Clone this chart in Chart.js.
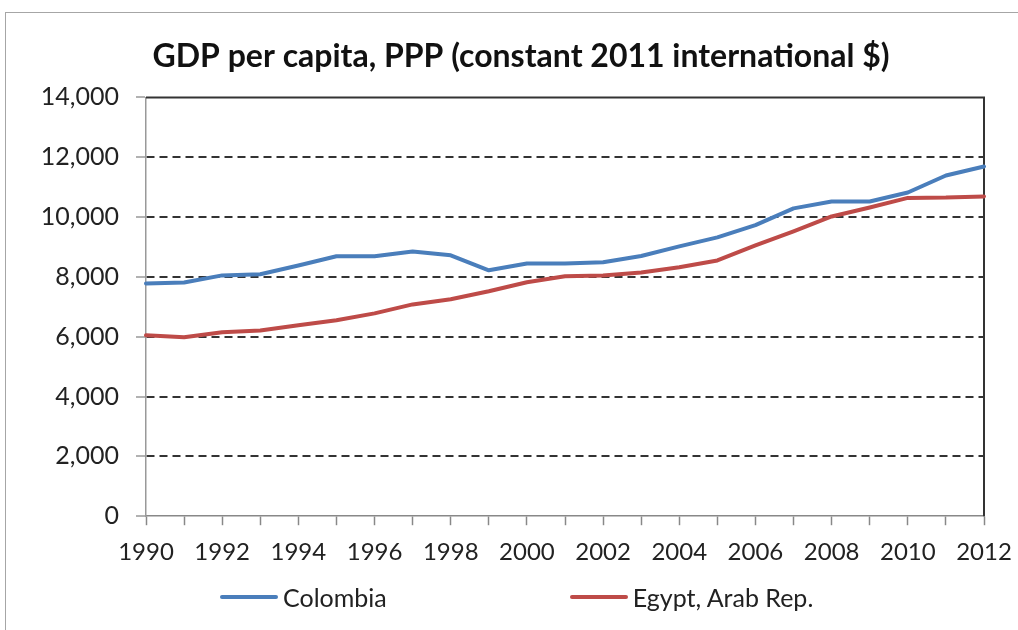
<!DOCTYPE html>
<html>
<head>
<meta charset="utf-8">
<title>GDP per capita, PPP</title>
<script src="https://cdn.jsdelivr.net/npm/chart.js@4/dist/chart.umd.min.js"></script>
<style>
  html, body { margin: 0; padding: 0; background: #fff; overflow: hidden; }
  #wrap { position: relative; width: 1018px; height: 630px; }
  #frame {
    position: absolute; left: 5px; top: 12px; width: 1100px; height: 700px;
    border: 1.5px solid #a6a6a6; box-sizing: border-box;
  }
  #chart { position: absolute; left: 0; top: 0; }
  #legend {
    position: absolute; left: 220px; top: 580px; height: 34px;
    display: flex; align-items: center; column-gap: 183px;
    font-family: Lato, "Open Sans", sans-serif; font-size: 25px; color: #222;
  }
  .lg-item { display: flex; align-items: center; }
  .lg-swatch { width: 58px; height: 4px; border-radius: 2px; margin-right: 5px; }
</style>
</head>
<body>
<div id="wrap">
  <div id="frame"></div>
  <canvas id="chart" width="1018" height="630"></canvas>
  <div id="legend"></div>
</div>
<script>
// GDP per capita, PPP (constant 2011 international $)
const years = ['1990', '1991', '1992', '1993', '1994', '1995', '1996', '1997', '1998', '1999',
               '2000', '2001', '2002', '2003', '2004', '2005', '2006', '2007', '2008', '2009',
               '2010', '2011', '2012'];

const colombia = [7780, 7810, 8050, 8090, 8380, 8690, 8690, 8850, 8720, 8220,
                  8450, 8450, 8490, 8700, 9020, 9320, 9730, 10290, 10520, 10520,
                  10820, 11390, 11690];

const egypt = [6050, 5980, 6150, 6210, 6380, 6550, 6780, 7080, 7250, 7520,
               7820, 8020, 8050, 8150, 8320, 8550, 9050, 9520, 10020, 10320,
               10640, 10650, 10690];

const seriesNames  = ['Colombia', 'Egypt, Arab Rep.'];
const seriesColors = ['#4a7ebb', '#be4b48'];
const yTicks = [0, 2000, 4000, 6000, 8000, 10000, 12000, 14000];

const FONT = 'Lato, "Open Sans", sans-serif';

// ── Plot frame (top and right edges of the plot area) ──
const plotFrame = {
  id: 'plotFrame',
  beforeDatasetsDraw(chart) {
    const { ctx, chartArea: a } = chart;
    ctx.save();
    ctx.strokeStyle = '#333';
    ctx.lineWidth = 2;
    ctx.beginPath();
    ctx.moveTo(a.left, a.top);
    ctx.lineTo(a.right, a.top);
    ctx.lineTo(a.right, a.bottom);
    ctx.stroke();
    ctx.restore();
  }
};

// ── HTML legend built from the chart's own legend items ──
const htmlLegend = {
  id: 'htmlLegend',
  afterUpdate(chart) {
    const box = document.getElementById('legend');
    box.innerHTML = '';
    const items = chart.options.plugins.legend.labels.generateLabels(chart);
    items.forEach(item => {
      const el = document.createElement('div');
      el.className = 'lg-item';
      const sw = document.createElement('span');
      sw.className = 'lg-swatch';
      sw.style.background = item.strokeStyle;
      const tx = document.createElement('span');
      tx.textContent = item.text;
      el.appendChild(sw);
      el.appendChild(tx);
      box.appendChild(el);
    });
  }
};

new Chart(document.getElementById('chart'), {
  type: 'line',
  data: {
    labels: years,
    datasets: [
      { label: seriesNames[0], data: colombia, borderColor: seriesColors[0], backgroundColor: seriesColors[0] },
      { label: seriesNames[1], data: egypt,    borderColor: seriesColors[1], backgroundColor: seriesColors[1] }
    ]
  },
  options: {
    responsive: false,
    animation: false,
    layout: { padding: { left: 30, right: 6, top: 0, bottom: 50 } },
    elements: {
      line: { borderWidth: 4, tension: 0, borderCapStyle: 'round', borderJoinStyle: 'round' },
      point: { radius: 0, hoverRadius: 0 }
    },
    plugins: {
      legend: { display: false },
      tooltip: { enabled: false },
      title: {
        display: true,
        text: 'GDP per capita, PPP (constant 2011 international $)',
        color: '#111',
        font: { family: FONT, size: 32, weight: 'bold', lineHeight: 1.2 },
        padding: { top: 37, bottom: 22 }
      }
    },
    scales: {
      x: {
        afterFit: s => { s.paddingLeft = 0; s.paddingRight = 0; },
        grid: { drawOnChartArea: false, tickLength: 9, tickColor: '#888', tickWidth: 1.5 },
        border: { color: '#888', width: 1.5 },
        ticks: {
          autoSkip: false, maxRotation: 0, padding: 13, color: '#222',
          font: { family: FONT, size: 24 },
          callback: (v, i) => (i % 2 === 0 ? years[i] : '')
        }
      },
      y: {
        min: 0, max: 14000,
        afterBuildTicks: s => { s.ticks = yTicks.map(v => ({ value: v })); },
        afterFit: s => { s.width = 116; },
        grid: {
          color: c => (c.tick && (c.tick.value === 0 || c.tick.value === 14000) ? 'rgba(0,0,0,0)' : '#333'),
          lineWidth: 2,
          tickLength: 10, tickColor: '#999', tickWidth: 1.5
        },
        border: { color: '#999', width: 1.5, dash: [8, 5] },
        ticks: {
          padding: 17, color: '#222',
          font: { family: FONT, size: 25 },
          callback: v => Number(v).toLocaleString('en-US')
        }
      },
      y2: {
        position: 'right',
        afterFit: s => { s.width = 28; },
        grid: { display: false },
        border: { display: false },
        ticks: { display: false }
      }
    }
  },
  plugins: [plotFrame, htmlLegend]
});
</script>
</body>
</html>
